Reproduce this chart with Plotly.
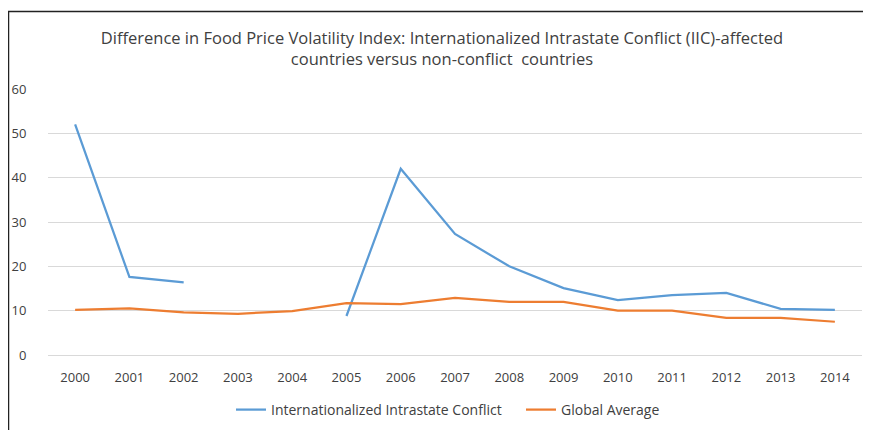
import plotly.graph_objects as go

years = [str(y) for y in range(2000, 2015)]
iic = [52, 17.6, 16.4, None, None, 8.8, 42, 27.3, 20, 15.1, 12.4, 13.5, 14, 10.4, 10.2]
global_avg = [10.2, 10.5, 9.6, 9.3, 9.9, 11.7, 11.5, 12.9, 12, 12, 10, 10, 8.4, 8.4, 7.5]
y_ticks = [0, 10, 20, 30, 40, 50, 60]

FONT = "Open Sans"

fig = go.Figure()
fig.add_trace(go.Scatter(x=years, y=iic, mode="lines", name="Internationalized Intrastate Conflict",
                         line=dict(color="#5B9BD5", width=2.25), connectgaps=False))
fig.add_trace(go.Scatter(x=years, y=global_avg, mode="lines", name="Global Average",
                         line=dict(color="#ED7D31", width=2.25)))

# page body has an 8px margin; work in figure coordinates = screen - 8
OFF = 8
W, H = 871 - OFF, 430 - OFF
L, R = 48 - OFF, 9
T, B = 89 - OFF, H - (355 - OFF)
pw, ph = W - L - R, H - T - B

def px(xs):
    return (xs - OFF - L) / pw

def py(ys):
    return (H - B - (ys - OFF)) / ph

fig.update_layout(
    width=W, height=H,
    margin=dict(l=L, r=R, t=T, b=B, autoexpand=False),
    paper_bgcolor="white", plot_bgcolor="white",
    font=dict(family=FONT, color="#595959", size=12),
    title=dict(text="Difference in Food Price Volatility Index: Internationalized Intrastate Conflict (IIC)-affected<br>countries versus non-conflict  countries",
               x=(442 - OFF) / W, xanchor="center", y=1 - (44 - OFF) / H, yanchor="middle",
               font=dict(family=FONT, size=16.5, color="#404040")),
    xaxis=dict(type="category", range=[-0.5, len(years) - 0.5], showgrid=False, showline=False,
               ticks="outside", ticklen=10, tickcolor="rgba(0,0,0,0)",
               tickfont=dict(size=13, color="#404040")),
    yaxis=dict(range=[0, 60], tickvals=y_ticks, showgrid=True, gridcolor="#D9D9D9", gridwidth=1,
               zeroline=True, zerolinecolor="#D9D9D9", zerolinewidth=1,
               showline=False, ticks="outside", ticklen=18, tickcolor="rgba(0,0,0,0)",
               tickfont=dict(size=13, color="#404040")),
    legend=dict(orientation="h", x=px(237 - 6), xanchor="left", yref="container",
                y=1 - (410 - OFF) / H, yanchor="middle",
                font=dict(size=14, color="#404040"), itemwidth=30,
                entrywidth=245, entrywidthmode="pixels"),
    showlegend=True,
    shapes=[
        dict(type="rect", xref="paper", yref="paper", x0=px(8.5), x1=px(900), y0=py(460), y1=py(11.5),
             line=dict(color="#222222", width=1.5), fillcolor="rgba(0,0,0,0)", layer="above"),
    ],
)

fig.write_html("out.html")
